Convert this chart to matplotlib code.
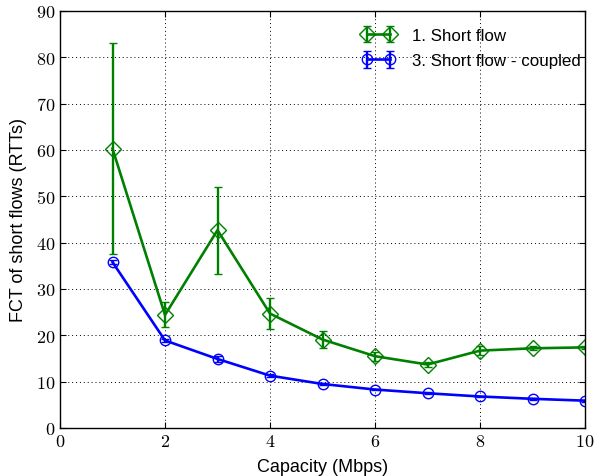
import matplotlib
matplotlib.use("Agg")
import matplotlib.pyplot as plt
from matplotlib.ticker import FuncFormatter

capacity = [1, 2, 3, 4, 5, 6, 7, 8, 9, 10]
short_flow = [60.3, 24.4, 42.7, 24.7, 19.1, 15.5, 13.7, 16.7, 17.2, 17.4]
short_flow_err = [22.7, 2.7, 9.4, 3.4, 1.8, 1.0, 0.6, 1.0, 0.4, 0.4]
coupled = [35.8, 18.9, 14.9, 11.3, 9.5, 8.3, 7.5, 6.8, 6.3, 5.9]
coupled_err = [0.5, 0.4, 0.6, 0.3, 0.3, 0.2, 0.2, 0.2, 0.2, 0.2]

plt.rcParams['mathtext.fontset'] = 'cm'
plt.rcParams['font.family'] = ['Liberation Sans', 'DejaVu Sans']

fig = plt.figure(figsize=(5.95, 4.77), dpi=100)
ax = fig.add_axes([60/595, 1 - 429/477, (585-60)/595, (429-12)/477])

ax.errorbar(capacity, short_flow, yerr=short_flow_err, color='green', lw=1.9,
            marker='D', markersize=8, mfc='none', mec='green', mew=1,
            elinewidth=1.7, capsize=3, capthick=1.5, label='1. Short flow')
ax.errorbar(capacity, coupled, yerr=coupled_err, color='blue', lw=1.9,
            marker='o', markersize=7.5, mfc='none', mec='blue', mew=1,
            elinewidth=1.7, capsize=3, capthick=1.5, label='3. Short flow - coupled')

ax.set_xlim(0, 10)
ax.set_ylim(0, 90)
ax.set_xticks(range(0, 11, 2))
ax.set_yticks(range(0, 91, 10))
fmt = FuncFormatter(lambda v, p: r'$%d$' % v)
ax.xaxis.set_major_formatter(fmt)
ax.yaxis.set_major_formatter(fmt)
ax.tick_params(direction='in', top=True, right=True, labelsize=13, length=4)
ax.grid(True, color='black', linewidth=0.7, linestyle=(0, (1, 3)))
ax.set_axisbelow(True)
ax.set_xlabel('Capacity (Mbps)', fontsize=13, labelpad=6)
ax.set_ylabel('FCT of short flows (RTTs)', fontsize=13, labelpad=6)
for s in ax.spines.values():
    s.set_linewidth(1)

ax.legend(loc='upper right', bbox_to_anchor=(1.025, 1.0), frameon=False,
          numpoints=2, fontsize=12.2, handlelength=2.0, handletextpad=1.0,
          borderaxespad=0.5, labelspacing=0.6, borderpad=0.5)

fig.savefig('out.png', dpi=100)
